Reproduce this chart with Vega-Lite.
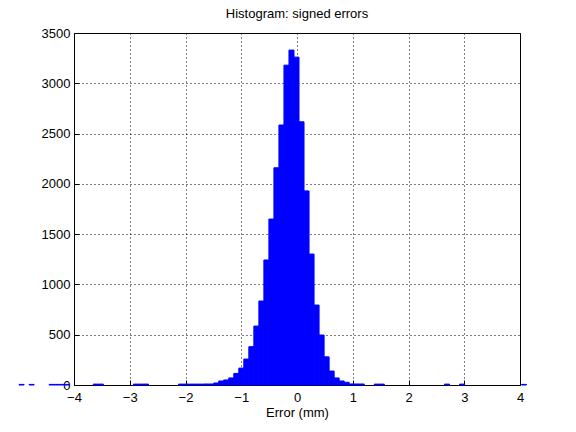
{
  "$schema": "https://vega.github.io/schema/vega-lite/v6.json",
  "width": 446,
  "height": 352,
  "autosize": {"type": "none"},
  "padding": {"left": 74, "top": 33, "right": 56, "bottom": 47},
  "background": "white",
  "config": {
    "font": "Liberation Sans",
    "view": {"stroke": "black", "strokeWidth": 1},
    "axis": {
      "domainColor": "black",
      "tickColor": "black",
      "labelColor": "black",
      "titleColor": "black",
      "labelFontSize": 13,
      "titleFontSize": 13,
      "titleFontWeight": "normal",
      "gridColor": "black",
      "gridDash": [1, 3],
      "gridOpacity": 1,
      "gridWidth": 1
    }
  },
  "title": {
    "text": "Histogram: signed errors",
    "fontSize": 13,
    "fontWeight": "normal",
    "color": "black",
    "offset": 6,
    "anchor": "middle"
  },
  "datasets": {
    "bins": [
      {"lo": -4.986, "hi": -4.896, "count": 6},
      {"lo": -4.806, "hi": -4.716, "count": 6},
      {"lo": -4.446, "hi": -4.356, "count": 6},
      {"lo": -4.356, "hi": -4.266, "count": 6},
      {"lo": -4.266, "hi": -4.176, "count": 6},
      {"lo": -4.176, "hi": -4.086, "count": 6},
      {"lo": -3.654, "hi": -3.564, "count": 9},
      {"lo": -3.564, "hi": -3.474, "count": 9},
      {"lo": -2.934, "hi": -2.844, "count": 9},
      {"lo": -2.844, "hi": -2.754, "count": 9},
      {"lo": -2.754, "hi": -2.664, "count": 9},
      {"lo": -2.124, "hi": -2.034, "count": 9},
      {"lo": -2.034, "hi": -1.944, "count": 9},
      {"lo": -1.944, "hi": -1.854, "count": 9},
      {"lo": -1.854, "hi": -1.764, "count": 9},
      {"lo": -1.764, "hi": -1.674, "count": 9},
      {"lo": -1.674, "hi": -1.584, "count": 10},
      {"lo": -1.584, "hi": -1.494, "count": 10},
      {"lo": -1.494, "hi": -1.404, "count": 20},
      {"lo": -1.404, "hi": -1.314, "count": 40},
      {"lo": -1.314, "hi": -1.224, "count": 50},
      {"lo": -1.224, "hi": -1.134, "count": 70},
      {"lo": -1.134, "hi": -1.044, "count": 115},
      {"lo": -1.044, "hi": -0.954, "count": 168},
      {"lo": -0.954, "hi": -0.864, "count": 258},
      {"lo": -0.864, "hi": -0.774, "count": 381},
      {"lo": -0.774, "hi": -0.684, "count": 586},
      {"lo": -0.684, "hi": -0.594, "count": 835},
      {"lo": -0.594, "hi": -0.504, "count": 1243},
      {"lo": -0.504, "hi": -0.414, "count": 1650},
      {"lo": -0.414, "hi": -0.324, "count": 2160},
      {"lo": -0.324, "hi": -0.234, "count": 2585},
      {"lo": -0.234, "hi": -0.144, "count": 3180},
      {"lo": -0.144, "hi": -0.054, "count": 3330},
      {"lo": -0.054, "hi": 0.036, "count": 3260},
      {"lo": 0.036, "hi": 0.126, "count": 2617},
      {"lo": 0.126, "hi": 0.216, "count": 1930},
      {"lo": 0.216, "hi": 0.306, "count": 1302},
      {"lo": 0.306, "hi": 0.396, "count": 795},
      {"lo": 0.396, "hi": 0.486, "count": 497},
      {"lo": 0.486, "hi": 0.576, "count": 280},
      {"lo": 0.576, "hi": 0.666, "count": 139},
      {"lo": 0.666, "hi": 0.756, "count": 70},
      {"lo": 0.756, "hi": 0.846, "count": 40},
      {"lo": 0.846, "hi": 0.936, "count": 27},
      {"lo": 0.936, "hi": 1.026, "count": 10},
      {"lo": 1.026, "hi": 1.116, "count": 10},
      {"lo": 1.116, "hi": 1.206, "count": 10},
      {"lo": 1.386, "hi": 1.476, "count": 9},
      {"lo": 1.476, "hi": 1.566, "count": 9},
      {"lo": 2.646, "hi": 2.736, "count": 9},
      {"lo": 2.916, "hi": 3.006, "count": 9},
      {"lo": 4.026, "hi": 4.116, "count": 6}
    ]
  },
  "data": {"name": "bins"},
  "layer": [
    {
      "mark": {"type": "rect", "color": "#0000ff", "stroke": "#0000ff", "strokeWidth": 1, "clip": false},
      "encoding": {
        "x": {
          "field": "lo",
          "type": "quantitative",
          "scale": {"domain": [-4, 4], "nice": false, "zero": false},
          "axis": {
            "values": [-4, -3, -2, -1, 0, 1, 2, 3, 4],
            "format": "d",
            "title": "Error (mm)",
            "grid": true,
            "tickSize": -5,
            "labelPadding": 11,
            "titlePadding": 2,
            "labelFlush": false
          }
        },
        "x2": {"field": "hi"},
        "y": {
          "field": "count",
          "type": "quantitative",
          "scale": {"domain": [0, 3500], "nice": false},
          "axis": {
            "values": [0, 500, 1000, 1500, 2000, 2500, 3000, 3500],
            "format": "d",
            "title": null,
            "grid": true,
            "tickSize": -5,
            "labelPadding": 9,
            "labelFlush": false
          }
        },
        "y2": {"datum": 0}
      }
    }
  ]
}
